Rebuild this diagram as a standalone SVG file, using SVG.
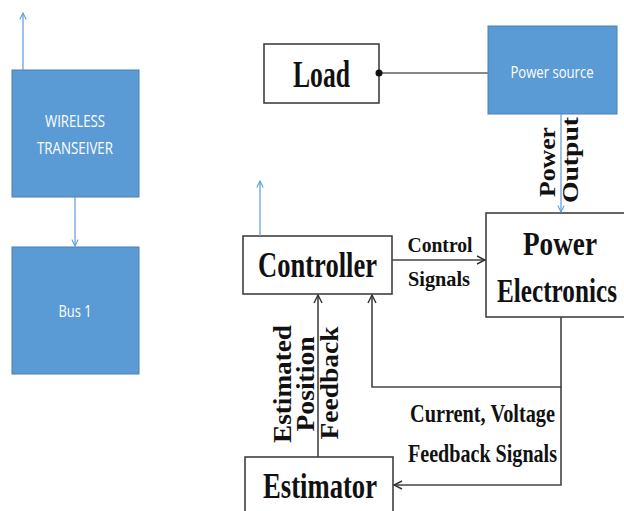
<svg xmlns="http://www.w3.org/2000/svg" width="624" height="511" viewBox="0 0 624 511">
<style>
.blue{fill:#5B9BD5;stroke:#4A7FB5;stroke-width:1}
.wbox{fill:#fff;stroke:#404040;stroke-width:1.6}
.wt{font-family:"Open Sans","Noto Sans",sans-serif;fill:#fff;font-size:16px;text-anchor:middle}
.bt{font-family:"Liberation Serif","Times New Roman",serif;font-weight:bold;fill:#111;text-anchor:middle}
.bl{stroke:#5B9BD5;stroke-width:1.2;fill:none}
.kl{stroke:#444;stroke-width:1.6;fill:none}
</style>
<defs>
<marker id="ab" viewBox="0 0 10 10" refX="9" refY="5" markerWidth="8" markerHeight="8" orient="auto" markerUnits="userSpaceOnUse"><path d="M1,1 L9,5 L1,9" fill="none" stroke="#5B9BD5" stroke-width="1.3"/></marker>
<marker id="ak" viewBox="0 0 10 10" refX="9" refY="5" markerWidth="10" markerHeight="10" orient="auto" markerUnits="userSpaceOnUse"><path d="M1,1 L9,5 L1,9" fill="none" stroke="#333" stroke-width="1.4"/></marker>
</defs>
<g id="wireless">
<rect class="blue" x="12" y="70" width="127" height="127"/>
<text class="wt" x="75" y="127" textLength="60" lengthAdjust="spacingAndGlyphs">WIRELESS</text>
<text class="wt" x="75" y="154" textLength="76" lengthAdjust="spacingAndGlyphs">TRANSEIVER</text>
</g>
<g id="bus1">
<rect class="blue" x="12" y="247" width="127" height="127"/>
<text class="wt" x="75" y="317" textLength="33" lengthAdjust="spacingAndGlyphs">Bus 1</text>
</g>
<g id="load">
<rect class="wbox" x="264" y="44" width="115" height="59"/>
<text class="bt" x="321.5" y="87" font-size="38" textLength="57" lengthAdjust="spacingAndGlyphs">Load</text>
</g>
<g id="powersource">
<rect class="blue" x="488" y="26" width="129" height="88"/>
<text class="wt" x="552" y="78" textLength="83" lengthAdjust="spacingAndGlyphs">Power source</text>
</g>
<g id="controller">
<rect class="wbox" x="243" y="236" width="149" height="58"/>
<text class="bt" x="317.5" y="277" font-size="36" textLength="119" lengthAdjust="spacingAndGlyphs">Controller</text>
</g>
<g id="powerelectronics">
<rect class="wbox" x="486" y="213" width="150" height="104"/>
<text class="bt" x="560" y="255" font-size="34" textLength="74" lengthAdjust="spacingAndGlyphs">Power</text>
<text class="bt" x="557" y="302" font-size="34" textLength="120" lengthAdjust="spacingAndGlyphs">Electronics</text>
</g>
<g id="estimator">
<rect class="wbox" x="245" y="457" width="148" height="60"/>
<text class="bt" x="320" y="498" font-size="36" textLength="114" lengthAdjust="spacingAndGlyphs">Estimator</text>
</g>
<g id="connectors">
<line class="bl" x1="23" y1="70" x2="23" y2="13" marker-end="url(#ab)"/>
<line class="bl" x1="75" y1="197" x2="75" y2="246" marker-end="url(#ab)"/>
<line class="bl" x1="260" y1="236" x2="260" y2="181" marker-end="url(#ab)"/>
<line class="bl" x1="561" y1="114" x2="561" y2="212" marker-end="url(#ab)"/>
<line x1="379" y1="73" x2="488" y2="73" stroke="#888" stroke-width="1.8"/>
<circle cx="379" cy="73" r="3.5" fill="#111"/>
<line class="kl" x1="392" y1="260" x2="485" y2="260" marker-end="url(#ak)"/>
<line class="kl" x1="318" y1="457" x2="318" y2="295" marker-end="url(#ak)"/>
<polyline class="kl" points="561,317 561,387 372,387 372,295" marker-end="url(#ak)"/>
<polyline class="kl" points="561,387 561,485 394,485" marker-end="url(#ak)"/>
<text class="bt" x="440" y="252" font-size="22" textLength="65" lengthAdjust="spacingAndGlyphs">Control</text>
<text class="bt" x="439" y="286" font-size="22" textLength="62" lengthAdjust="spacingAndGlyphs">Signals</text>
<text class="bt" x="482.5" y="422" font-size="25" textLength="145" lengthAdjust="spacingAndGlyphs">Current, Voltage</text>
<text class="bt" x="482.5" y="462" font-size="25" textLength="149" lengthAdjust="spacingAndGlyphs">Feedback Signals</text>
<text class="bt" transform="translate(291,384) rotate(-90)" font-size="25" textLength="118" lengthAdjust="spacingAndGlyphs">Estimated</text>
<text class="bt" transform="translate(314,384) rotate(-90)" font-size="25" textLength="95" lengthAdjust="spacingAndGlyphs">Position</text>
<text class="bt" transform="translate(338,383) rotate(-90)" font-size="25" textLength="113" lengthAdjust="spacingAndGlyphs">Feedback</text>
<text class="bt" transform="translate(555,162) rotate(-90)" font-size="23" textLength="70" lengthAdjust="spacingAndGlyphs">Power</text>
<text class="bt" transform="translate(578,160) rotate(-90)" font-size="23" textLength="86" lengthAdjust="spacingAndGlyphs">Output</text>
</g>
</svg>
